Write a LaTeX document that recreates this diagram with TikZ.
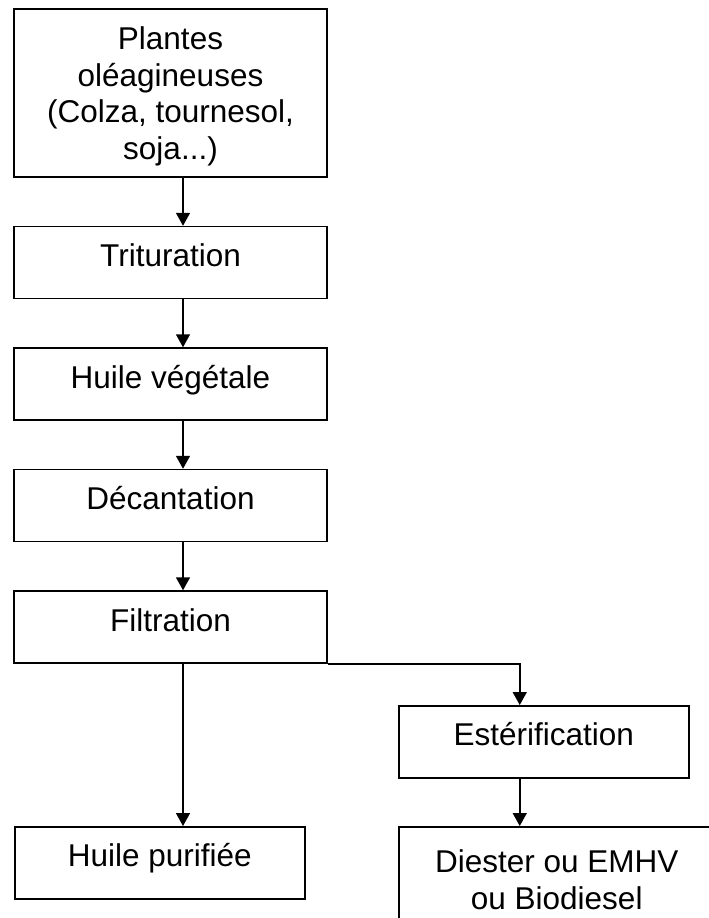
\documentclass[tikz,border=0pt]{standalone}
\usepackage{fontspec}
\setmainfont{Liberation Sans}
\usetikzlibrary{arrows.meta,positioning}

\begin{document}
\begin{tikzpicture}[
  x=1pt, y=-1pt,
  font=\fontsize{31.5}{36.5}\selectfont,
  stage/.style={rectangle, draw=black, line width=1.5pt, align=center,
                inner sep=0pt, minimum width=313pt, minimum height=72pt,
                text height=24pt, text depth=16pt},
  multi/.style={text height=, text depth=0pt},
  leaf/.style={stage, minimum width=290pt},
  arr/.style={-{Triangle[length=13pt,width=14pt]}, line width=1.5pt},
]
\useasboundingbox (0,0) rectangle (709,918);
% main vertical chain
\node[stage, multi, minimum height=168pt] (plantes) at (170.5,93) {Plantes\\oléagineuses\\(Colza, tournesol,\\soja...)};
\node[stage, below=48pt of plantes] (trit) {Trituration};
\node[stage, below=48pt of trit] (huile) {Huile végétale};
\node[stage, below=48pt of huile] (decant) {Décantation};
\node[stage, below=48pt of decant] (filtr) {Filtration};
\draw[arr] ([xshift=12.5pt]plantes.south) -- ([xshift=12.5pt]trit.north);
\draw[arr] ([xshift=12.5pt]trit.south) -- ([xshift=12.5pt]huile.north);
\draw[arr] ([xshift=12.5pt]huile.south) -- ([xshift=12.5pt]decant.north);
\draw[arr] ([xshift=12.5pt]decant.south) -- ([xshift=12.5pt]filtr.north);
% the two outputs
\node[leaf, anchor=north west] (purif) at (14,826) {Huile purifiée};
\node[leaf, anchor=north west] (ester) at (398,705) {Estérification};
\node[stage, multi, minimum width=316pt, minimum height=106pt, anchor=north west] (diester) at (398,826) {Diester ou EMHV\\ou Biodiesel};
\draw[arr] ([xshift=12.5pt]filtr.south) -- ([xshift=12.5pt]filtr.south |- purif.north);
\draw[arr] (filtr.south east) -| ([xshift=-24pt]ester.north);
\draw[arr] ([xshift=-24pt]ester.south) -- ([xshift=-24pt]ester.south |- diester.north);
\end{tikzpicture}
\end{document}
